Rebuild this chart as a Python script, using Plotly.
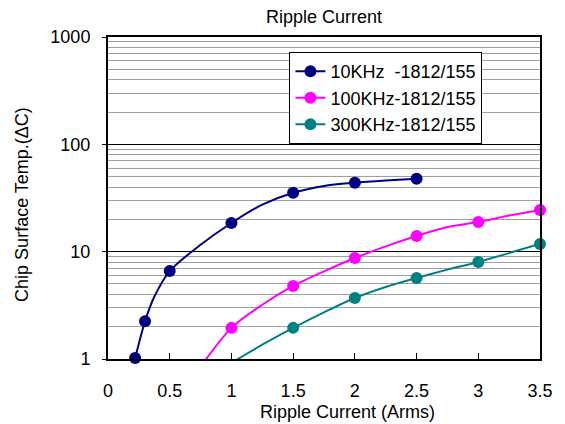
import plotly.graph_objects as go

# ---- data ----
names = ["10KHz  -1812/155", "100KHz-1812/155", "300KHz-1812/155"]
colors = ["#000080", "#FF00FF", "#008080"]

x_10k = [0.22, 0.30, 0.375, 0.5, 0.75, 1.0, 1.25, 1.5, 1.75, 2.0, 2.25, 2.5]
y_10k = [1.02, 2.25, 3.8, 6.6, 11.6, 18.5, 27.4, 35.4, 41.0, 43.9, 46.0, 47.8]
m_10k = [1, 1, 0, 1, 0, 1, 0, 1, 0, 1, 0, 1]

x_100k = [0.75, 1.0, 1.25, 1.5, 1.75, 2.0, 2.25, 2.5, 2.75, 3.0, 3.25, 3.5, 3.75]
y_100k = [0.85, 1.95, 3.2, 4.79, 6.55, 8.73, 11.2, 14.0, 17.0, 18.9, 21.7, 24.5, 27.0]
m_100k = [0, 1, 0, 1, 0, 1, 0, 1, 0, 1, 0, 1, 0]

x_300k = [1.0, 1.25, 1.5, 1.75, 2.0, 2.25, 2.5, 2.75, 3.0, 3.25, 3.5, 3.75]
y_300k = [0.92, 1.36, 1.95, 2.72, 3.70, 4.69, 5.69, 6.8, 8.02, 9.7, 11.8, 13.2]
m_300k = [0, 0, 1, 0, 1, 0, 1, 0, 1, 0, 1, 0]

x_ticks = [0, 0.5, 1, 1.5, 2, 2.5, 3, 3.5]
x_tick_text = ["0", "0.5", "1", "1.5", "2", "2.5", "3", "3.5"]
y_ticks = [1, 10, 100, 1000]
y_tick_text = ["1", "10", "100", "1000"]

title_text = "Ripple Current"
x_title = "Ripple Current (Arms)"
y_title = "Chip Surface Temp.(ΔC)"

series = [(x_10k, y_10k, m_10k), (x_100k, y_100k, m_100k), (x_300k, y_300k, m_300k)]

FONT = "Liberation Sans, Arial, sans-serif"
fig = go.Figure()

for (xs, ys, ms), name, c in zip(series, names, colors):
    fig.add_trace(go.Scatter(x=xs, y=ys, mode="lines", line=dict(color=c, width=2, shape="spline", smoothing=0.8),
                             showlegend=False, hoverinfo="skip"))
    mx = [x for x, m in zip(xs, ms) if m]
    my = [y for y, m in zip(ys, ms) if m]
    fig.add_trace(go.Scatter(x=mx, y=my, mode="markers", marker=dict(color=c, size=12),
                             showlegend=False, cliponaxis=False))
    fig.add_trace(go.Scatter(x=[None], y=[None], mode="lines+markers", name=name,
                             line=dict(color=c, width=2), marker=dict(color=c, size=12)))

minor_vals = [m * 10 ** d for d in range(3) for m in range(2, 10)]

fig.update_layout(
    width=557, height=416,
    margin=dict(l=100, r=22, t=29, b=65),
    paper_bgcolor="white", plot_bgcolor="white",
    font=dict(family=FONT, color="black", size=18),
    title=dict(text=title_text, x=0.5, xref="paper", xanchor="center", y=0.978, yanchor="middle",
               font=dict(size=18)),
    showlegend=True,
    legend=dict(x=0.42, y=0.953, xanchor="left", yanchor="top", bgcolor="white",
                bordercolor="black", borderwidth=1, font=dict(size=18)),
    xaxis=dict(range=[0, 3.5], tickvals=x_ticks, ticktext=x_tick_text, ticks="inside", ticklen=6,
               tickcolor="black", showgrid=False, zeroline=False, showline=True, linecolor="black",
               linewidth=2, mirror=True, ticklabelstandoff=14,
               tickfont=dict(size=18)),
    yaxis=dict(type="log", range=[0, 3], tickvals=y_ticks, ticktext=y_tick_text, ticks="outside",
               ticklen=4, tickcolor="black", showgrid=True, gridcolor="black", gridwidth=1,
               zeroline=False, showline=True, linecolor="black", linewidth=2, mirror=True,
               ticklabelstandoff=8,
               minor=dict(tickvals=minor_vals, showgrid=True, gridcolor="#A0A0A0", gridwidth=1, ticks=""),
               tickfont=dict(size=18)),
    annotations=[
        dict(text=x_title, xref="paper", yref="paper", x=0.554, y=-0.165, xanchor="center",
             yanchor="middle", showarrow=False, font=dict(size=18)),
        dict(text=y_title, xref="paper", yref="paper", x=-0.198, y=0.48, xanchor="center",
             yanchor="middle", showarrow=False, textangle=-90, font=dict(size=18)),
    ],
)

fig.write_html("out.html")
